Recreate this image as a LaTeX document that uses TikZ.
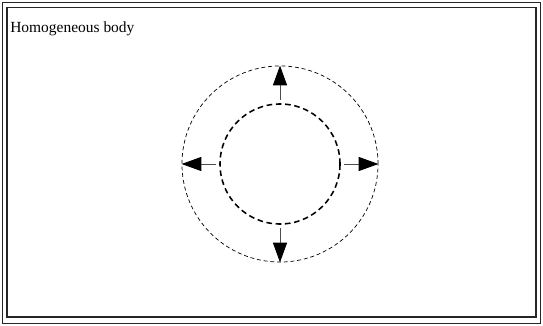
\documentclass[tikz,border=0pt]{standalone}
\usepackage{fontspec}
\setmainfont{Liberation Serif}
\usetikzlibrary{arrows.meta,positioning}
\tikzset{
  body-frame/.style={draw=black!85, line width=0.9pt},
  inner-ring/.style={circle, draw=black, dashed, line width=1.1pt, dash pattern=on 4pt off 2.6pt,
    minimum size=3cm, inner sep=0pt},
  outer-ring/.style={circle, draw=black, line width=0.5pt, dash pattern=on 2.8pt off 2pt,
    minimum size=4.9cm, inner sep=0pt},
  grow-arrow/.style={draw=black!70, line width=0.6pt, shorten <=2.5pt,
    -{Triangle[length=14pt, width=10pt, color=black]}}
}

\begin{document}
\begin{tikzpicture}[x=0.025cm, y=-0.025cm]
  \useasboundingbox (0,0) rectangle (543,326);

  % Double frame of the body
  \draw[body-frame] (2.5,2.5) rectangle (540.5,323.5);
  \draw[body-frame] (7,7.5) rectangle (536,317);
  \node[anchor=base west, font=\fontsize{11}{13}\selectfont, inner sep=0pt] (label) at (10,32.5)
    {Homogeneous body};

  % Rings
  \node[outer-ring] (front) at (280,164) {};
  \node[inner-ring] (core) at (280,164) {};

  % Expansion arrows
  \foreach \dir in {north, south, east, west}
    \draw[grow-arrow] (core.\dir) -- (front.\dir);
\end{tikzpicture}
\end{document}
